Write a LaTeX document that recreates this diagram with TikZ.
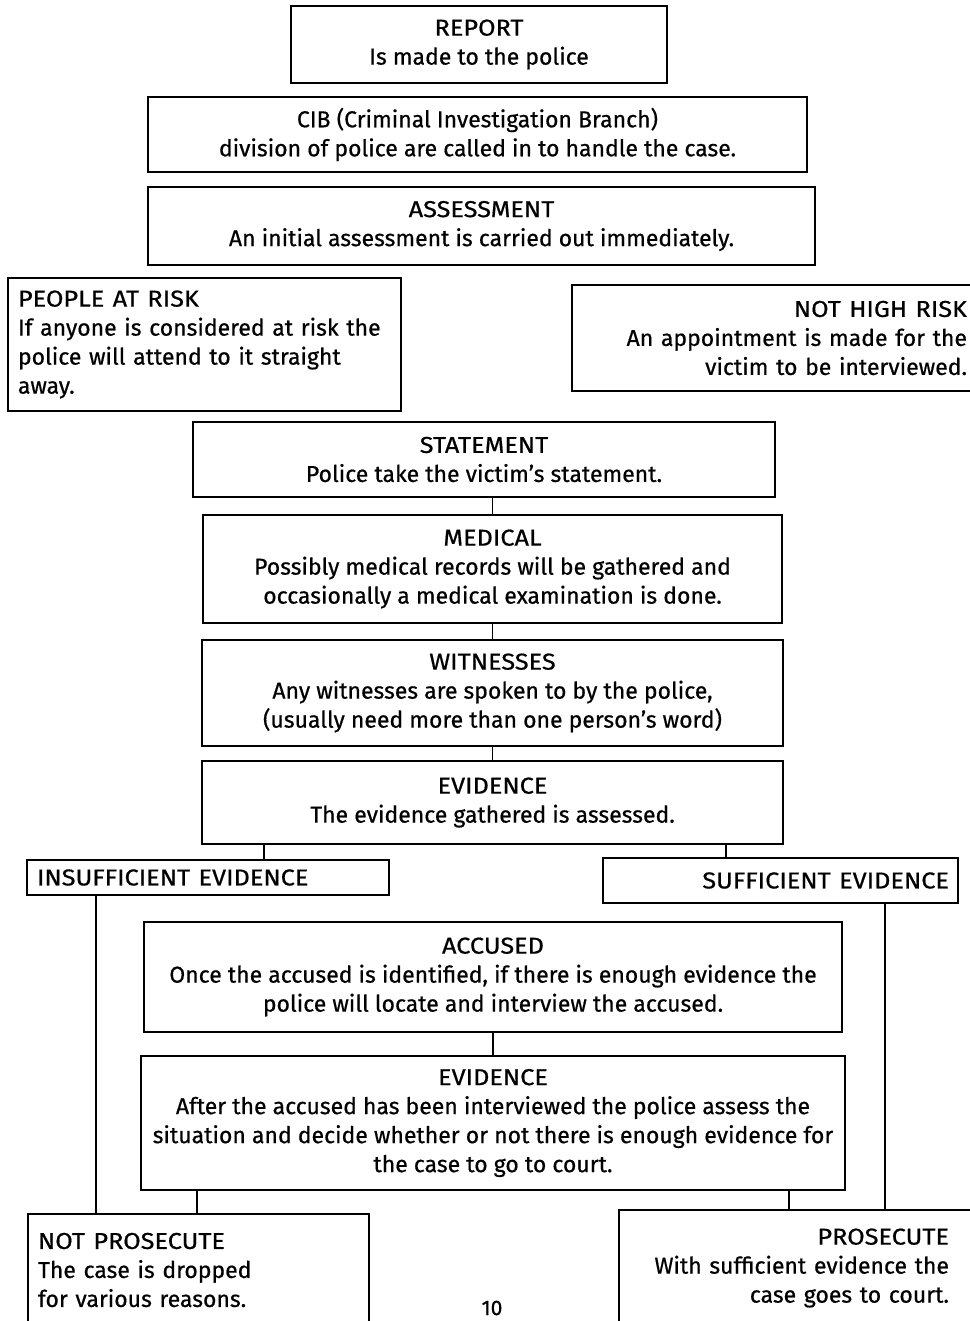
\documentclass[tikz,border=0pt]{standalone}
\usepackage{fontspec}
\setmainfont{Fira Sans}[FakeBold=0.6]
\tikzset{>=latex}
\colorlet{boxcol}{black}
\colorlet{linecol}{black}
\tikzstyle{stage}=[draw=boxcol,line width=1.8,inner sep=0,align=center,
  font={\fontsize{23}{29}\selectfont}]
\tikzstyle{link}=[linecol,line width=1.8]
\def\capsw#1{\scalebox{1.1}[1]{#1}} % wider capitals
\def\hd#1{\capsw{#1}\\} % heading line

\begin{document}
\begin{tikzpicture}[x=1pt,y=-1pt]
  \useasboundingbox (0,0) rectangle (969,1321);
  % top of the chain
  \node[stage,minimum width=376,minimum height=77] (report) at (479,44.5)
    {\hd{REPORT}Is made to the police};
  \node[stage,minimum width=659,minimum height=75] (cib) at (477.5,134.5)
    {CIB (Criminal Investigation Branch)\\division of police are called in to handle the case.};
  \node[stage,minimum width=667,minimum height=78] (assess) at (481.5,226)
    {\hd{ASSESSMENT}An initial assessment is carried out immediately.};
  % the two risk cases
  \node[stage,align=left,text width=373,minimum width=393,minimum height=133] (risk) at (204.5,344.5)
    {\hd{PEOPLE AT RISK}If anyone is considered at risk the\\police will attend to it straight\\away.};
  \node[stage,align=right,text width=386,minimum width=404,minimum height=106] (nothigh) at (774,338)
    {\hd{NOT HIGH RISK}An appointment is made for the\\victim to be interviewed.};
  % investigation
  \node[stage,minimum width=582,minimum height=75] (statement) at (484,459.5)
    {\hd{STATEMENT}Police take the victim’s statement.};
  \node[stage,minimum width=579,minimum height=108] (medical) at (492.5,569)
    {\hd{MEDICAL}Possibly medical records will be gathered and\\occasionally a medical examination is done.};
  \node[stage,minimum width=581,minimum height=106] (witness) at (492.5,693)
    {\hd{WITNESSES}Any witnesses are spoken to by the police,\\(usually need more than one person’s word)};
  \node[stage,minimum width=581,minimum height=83] (evid) at (492.5,802.5)
    {\hd{EVIDENCE}The evidence gathered is assessed.};
  % outcome of the evidence
  \node[stage,align=left,text width=342,minimum width=362,minimum height=35] (insuf) at (208,877.5)
    {\capsw{INSUFFICIENT EVIDENCE}};
  \node[stage,align=right,text width=337,minimum width=355,minimum height=45] (suf) at (780.5,880.5)
    {\capsw{SUFFICIENT EVIDENCE}};
  \node[stage,minimum width=698,minimum height=110] (accused) at (493,977)
    {\hd{ACCUSED}Once the accused is identified, if there is enough evidence the\\police will locate and interview the accused.};
  \node[stage,minimum width=704,minimum height=134] (evid2) at (493,1123)
    {\hd{EVIDENCE}After the accused has been interviewed the police assess the\\situation and decide whether or not there is enough evidence for\\the case to go to court.};
  \node[stage,align=left,text width=321,minimum width=341,minimum height=112] (notpros) at (198.5,1270)
    {\hd{NOT PROSECUTE}The case is dropped\\for various reasons.};
  \node[stage,align=right,text width=301,minimum width=359,minimum height=116] (pros) at (798.5,1268)
    {\hd{PROSECUTE}With sufficient evidence the\\case goes to court.};
  \node[font={\fontsize{21}{24}\selectfont}] (pagenum) at (492,1308) {10};
  % where the vertical links sit
  \coordinate (xins) at (264,0);
  \coordinate (xsuf) at (726,0);
  \coordinate (xnpA) at (96,0);
  \coordinate (xnpB) at (197,0);
  \coordinate (xprA) at (789,0);
  \coordinate (xprB) at (885,0);
  \draw[link] (statement.south -| medical.north) -- (medical.north);
  \draw[link] (medical.south) -- (witness.north -| medical.south);
  \draw[link] (witness.south) -- (evid.north);
  \draw[link] (accused.south) -- (evid2.north);
  \draw[link] (evid.south -| xins) -- (insuf.north -| xins);
  \draw[link] (evid.south -| xsuf) -- (suf.north -| xsuf);
  \draw[link] (insuf.south -| xnpA) -- (notpros.north -| xnpA);
  \draw[link] (evid2.south -| xnpB) -- (notpros.north -| xnpB);
  \draw[link] (evid2.south -| xprA) -- (pros.north -| xprA);
  \draw[link] (suf.south -| xprB) -- (pros.north -| xprB);
\end{tikzpicture}
\end{document}
